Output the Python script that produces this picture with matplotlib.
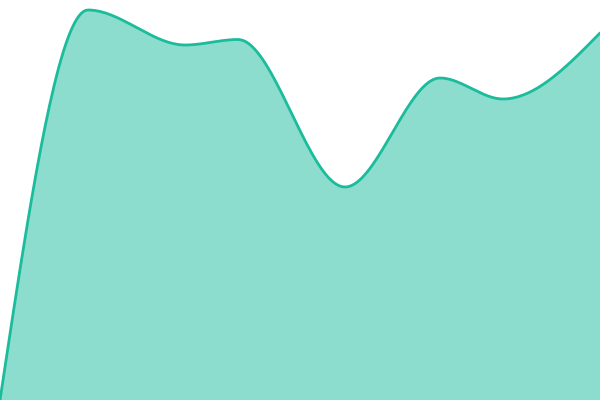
import numpy as np
import matplotlib
matplotlib.use("Agg")
import matplotlib.pyplot as plt

# sample positions and values (y grows upward, 0..400)
X_VALUES = [0, 88, 185, 238, 345, 440, 503, 600]
Y_VALUES = [0, 390, 355, 360.5, 213, 322, 301, 367]

LINE_COLOR = "#1abc9c"


def monotone_x(xs, ys, n=40):
    """Monotone cubic (d3 curveMonotoneX style) through the given points."""
    xs = np.asarray(xs, float)
    ys = np.asarray(ys, float)
    k = len(xs)
    h = np.diff(xs)
    s = np.diff(ys) / h
    t = np.zeros(k)
    for i in range(1, k - 1):
        s0, s1 = s[i - 1], s[i]
        p = (s0 * h[i] + s1 * h[i - 1]) / (h[i - 1] + h[i])
        t[i] = (np.sign(s0) + np.sign(s1)) * min(abs(s0), abs(s1), 0.5 * abs(p))
    t[0] = (3 * s[0] - t[1]) / 2
    t[-1] = (3 * s[-1] - t[-2]) / 2

    px, py = [], []
    u = np.linspace(0, 1, n)
    for i in range(k - 1):
        dx = h[i] / 3
        p0 = (xs[i], ys[i])
        p1 = (xs[i] + dx, ys[i] + dx * t[i])
        p2 = (xs[i + 1] - dx, ys[i + 1] - dx * t[i + 1])
        p3 = (xs[i + 1], ys[i + 1])
        b0 = (1 - u) ** 3
        b1 = 3 * u * (1 - u) ** 2
        b2 = 3 * u ** 2 * (1 - u)
        b3 = u ** 3
        px.append(b0 * p0[0] + b1 * p1[0] + b2 * p2[0] + b3 * p3[0])
        py.append(b0 * p0[1] + b1 * p1[1] + b2 * p2[1] + b3 * p3[1])
    return np.concatenate(px), np.concatenate(py)


cx, cy = monotone_x(X_VALUES, Y_VALUES)

fig = plt.figure(figsize=(6, 4), dpi=100)
ax = fig.add_axes([0, 0, 1, 1])
ax.fill_between(cx, cy, 0, color=LINE_COLOR, alpha=0.5, linewidth=0)
ax.plot(cx, cy, color=LINE_COLOR, linewidth=2.0, solid_capstyle="round")
ax.set_xlim(0, 600)
ax.set_ylim(0, 400)
ax.axis("off")

fig.savefig("out.png", dpi=100)
